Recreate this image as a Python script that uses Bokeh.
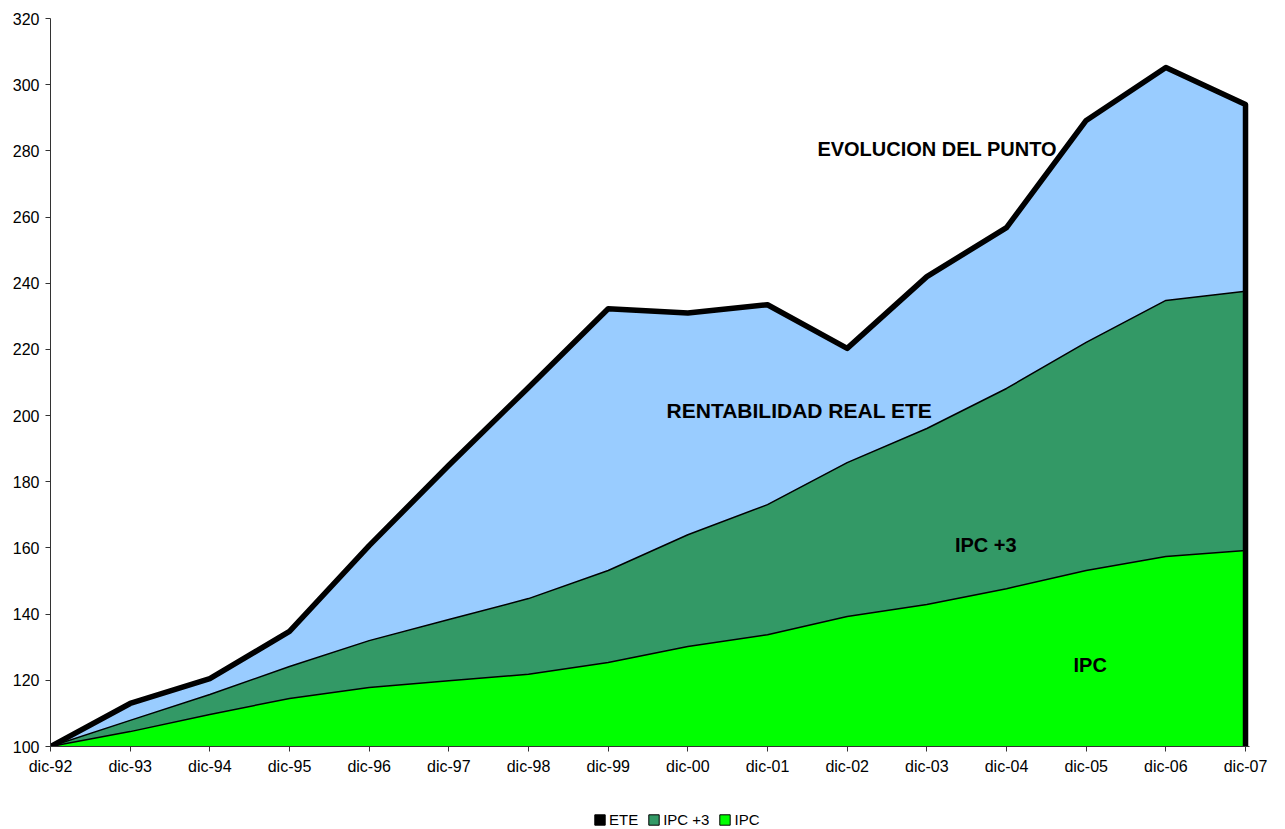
from bokeh.plotting import figure
from bokeh.layouts import column
from bokeh.models import Range1d, FixedTicker, Legend, LegendItem, Label
from bokeh.embed import file_html
from bokeh.resources import INLINE

# Index series, base 100 at dic-92
periods = ["dic-92", "dic-93", "dic-94", "dic-95", "dic-96", "dic-97", "dic-98", "dic-99",
           "dic-00", "dic-01", "dic-02", "dic-03", "dic-04", "dic-05", "dic-06", "dic-07"]
ete = [100, 113.0, 120.5, 134.8, 160.7, 185.0, 208.5, 232.3,
       231.0, 233.5, 220.3, 242.0, 256.8, 289.2, 305.2, 294.0]
ipc_3 = [100, 107.9, 115.7, 124.2, 132.0, 138.4, 144.7, 153.2,
         164.0, 173.1, 185.8, 196.1, 208.2, 222.1, 234.8, 237.6]
ipc = [100, 104.5, 109.7, 114.5, 117.8, 119.9, 121.8, 125.4,
       130.2, 133.8, 139.3, 142.9, 147.7, 153.2, 157.4, 159.2]
base = 100
y_ticks = list(range(100, 321, 20))
series_names = ["ETE", "IPC +3", "IPC"]

xs = list(range(len(periods)))

FONT = "Liberation Sans"
BLUE = "#99CCFF"
GREEN = "#339966"
LIME = "#00FF00"

p = figure(width=1285, height=800, output_backend="svg", toolbar_location=None,
           x_range=Range1d(0, 15.05), y_range=Range1d(100, 320),
           min_border_left=50, min_border_right=36, min_border_top=18,
           min_border_bottom=54)
p.outline_line_color = None
p.grid.grid_line_color = None

# Areas, drawn from the back to the front
p.varea(x=xs, y1=[base] * len(xs), y2=ete, fill_color=BLUE)
p.varea(x=xs, y1=[base] * len(xs), y2=ipc_3, fill_color=GREEN)
p.line(x=xs, y=ipc_3, line_color="black", line_width=1.5)
p.varea(x=xs, y1=[base] * len(xs), y2=ipc, fill_color=LIME)
p.line(x=xs, y=ipc, line_color="black", line_width=1.5)

# Thick outline of the ETE area, closed down to the base at the last period
p.line(x=xs + [xs[-1]], y=ete + [base], line_color="black", line_width=5.5,
       line_join="round")

# Axes
p.xaxis.ticker = FixedTicker(ticks=xs)
p.xaxis.major_label_overrides = {i: s for i, s in enumerate(periods)}
p.yaxis.ticker = FixedTicker(ticks=y_ticks)
for ax in (p.xaxis[0], p.yaxis[0]):
    ax.axis_line_color = "#333333"
    ax.axis_line_width = 1
    ax.major_tick_line_color = "#333333"
    ax.major_tick_out = 5
    ax.major_tick_in = 0
    ax.minor_tick_line_color = None
    ax.major_label_text_font = FONT
    ax.major_label_text_font_size = "16px"
    ax.major_label_text_color = "black"
p.xaxis.major_label_standoff = 6
p.yaxis.major_label_standoff = 6

# In-chart labels
labels = [
    ("EVOLUCION DEL PUNTO", 11.13, 280.6, "20px"),
    ("RENTABILIDAD REAL ETE", 9.40, 201.5, "21px"),
    ("IPC +3", 11.74, 161.0, "20px"),
    ("IPC", 13.05, 124.5, "20px"),
]
for txt, lx, ly, fs in labels:
    p.add_layout(Label(x=lx, y=ly, text=txt, text_font=FONT, text_font_size=fs,
                       text_font_style="bold", text_color="black",
                       text_align="center", text_baseline="middle"))

# Legend strip under the chart; the swatch glyphs sit outside the strip's range
leg = figure(width=1285, height=29, output_backend="svg", toolbar_location=None,
             x_range=Range1d(0, 1), y_range=Range1d(0, 1),
             min_border=0, min_border_left=0, min_border_right=0,
             min_border_top=0, min_border_bottom=0)
leg.axis.visible = False
leg.grid.grid_line_color = None
leg.outline_line_color = None

swatch_colors = ["black", GREEN, LIME]
items = []
for name, col in zip(series_names, swatch_colors):
    r = leg.quad(left=[-3], right=[-2], top=[-2], bottom=[-3],
                 fill_color=col, line_color="black")
    items.append(LegendItem(label=name, renderers=[r], index=0))

legend = Legend(items=items, orientation="horizontal", location=(543, 1),
                glyph_width=13, glyph_height=13, label_standoff=3, spacing=9,
                padding=0, margin=0, border_line_color=None,
                background_fill_alpha=0, label_text_font=FONT,
                label_text_font_size="15px", label_text_color="black",
                label_height=15)
leg.add_layout(legend, "center")

layout = column(p, leg, spacing=0)
open("out.html", "w").write(file_html(layout, INLINE))
